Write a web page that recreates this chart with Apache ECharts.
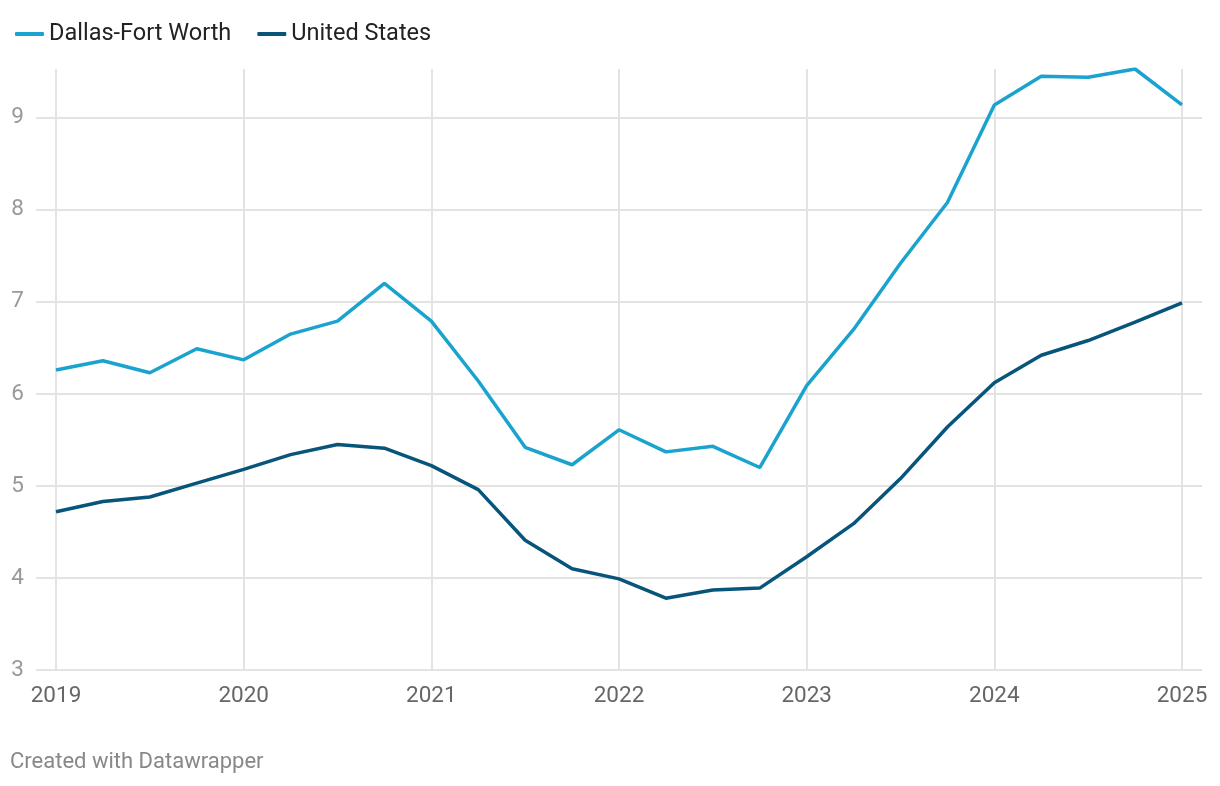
<!DOCTYPE html>
<html>
<head>
<meta charset="utf-8">
<script src="https://cdn.jsdelivr.net/npm/echarts@6/dist/echarts.min.js"></script>
<style>
html,body{margin:0;padding:0;background:#fff;}
#c{width:1220px;height:786px;}
</style>
</head>
<body>
<div id="c"></div>
<script>
const quarters = [
 "2019 Q1","2019 Q2","2019 Q3","2019 Q4",
 "2020 Q1","2020 Q2","2020 Q3","2020 Q4",
 "2021 Q1","2021 Q2","2021 Q3","2021 Q4",
 "2022 Q1","2022 Q2","2022 Q3","2022 Q4",
 "2023 Q1","2023 Q2","2023 Q3","2023 Q4",
 "2024 Q1","2024 Q2","2024 Q3","2024 Q4",
 "2025 Q1"
];
const dfw = [6.26,6.36,6.23,6.49,6.37,6.65,6.79,7.20,6.79,6.14,5.42,5.23,5.61,5.37,5.43,5.20,6.09,6.70,7.42,8.08,9.14,9.45,9.44,9.53,9.14];
const us  = [4.72,4.83,4.88,5.03,5.18,5.34,5.45,5.41,5.22,4.96,4.41,4.10,3.99,3.78,3.87,3.89,4.23,4.59,5.08,5.64,6.12,6.42,6.58,6.78,6.99];
const yTicks = [3,4,5,6,7,8,9];

const GRID = '#e3e3e3';
const chart = echarts.init(document.getElementById('c'));
const FONT = 'Roboto';
chart.setOption({
  animation:false,
  textStyle:{fontFamily:FONT},
  legend:{
    left:10, top:17, itemWidth:29, itemHeight:4, itemGap:26, icon:'roundRect',
    textStyle:{fontSize:23.5, color:'#222', fontFamily:FONT},
    data:['Dallas-Fort Worth','United States']
  },
  graphic:[{type:'text', left:10, top:751, style:{text:'Created with Datawrapper', fontSize:22, fill:'#888', fontFamily:FONT}}],
  grid:[
    {left:56, right:38, top:69, bottom:116},
    {left:36, right:18, top:69, bottom:116}
  ],
  xAxis:[
    {type:'category', gridIndex:0, data:quarters, boundaryGap:false,
     axisLine:{show:false}, axisTick:{show:false},
     axisLabel:{interval:3, margin:15, fontSize:22.5, color:'#666', fontFamily:FONT, formatter:v=>v.slice(0,4)},
     splitLine:{show:true, interval:3, lineStyle:{color:GRID, width:2}}
    },
    {type:'value', gridIndex:1, min:0, max:1, show:false}
  ],
  yAxis:[
    {type:'value', gridIndex:0, min:3, max:9.53, interval:1, show:false, splitLine:{show:false}},
    {type:'value', gridIndex:1, min:3, max:9.53, interval:1,
     axisLine:{show:false}, axisTick:{show:false},
     axisLabel:{fontSize:22.5, color:'#999', margin:12, fontFamily:FONT, showMaxLabel:false},
     splitLine:{show:true, lineStyle:{color:yTicks.map(()=>GRID).concat(['rgba(0,0,0,0)']), width:2}}
    }
  ],
  series:[
    {name:'Dallas-Fort Worth', type:'line', xAxisIndex:0, yAxisIndex:0, data:dfw, symbol:'none',
     lineStyle:{color:'#1ba3cf', width:3.5}, itemStyle:{color:'#1ba3cf'}, z:3},
    {name:'United States', type:'line', xAxisIndex:0, yAxisIndex:0, data:us, symbol:'none',
     lineStyle:{color:'#08557c', width:3.5}, itemStyle:{color:'#08557c'}, z:4}
  ]
});
</script>
</body>
</html>
